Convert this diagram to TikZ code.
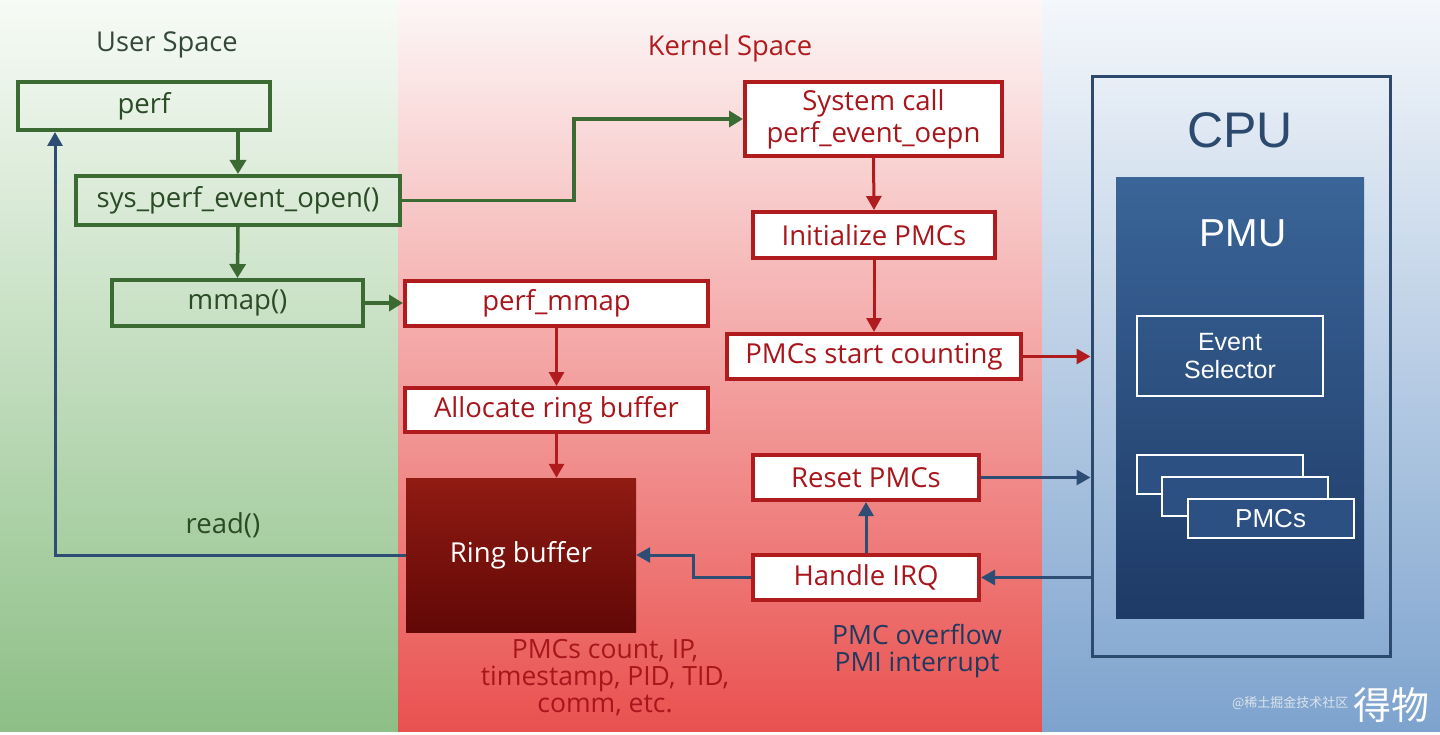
\documentclass[tikz,border=0pt]{standalone}
\usepackage{fontspec}
\setmainfont{Open Sans}
\setsansfont{Liberation Sans}
\newfontfamily\cjk{Noto Sans CJK SC}
\usetikzlibrary{arrows.meta,calc}

\definecolor{pfgreen}{HTML}{3B6B33}
\definecolor{pfgtext}{HTML}{2B4A26}
\definecolor{pfusertxt}{HTML}{34483A}
\definecolor{pfred}{HTML}{B01B1E}
\definecolor{pfrtext}{HTML}{A8161C}
\definecolor{pfblue}{HTML}{2E4D74}
\definecolor{pfnavy}{HTML}{1F3A5F}
\definecolor{cpublue}{HTML}{2C4A6E}
\definecolor{pmutop}{HTML}{3A6598}
\definecolor{pmubot}{HTML}{1E3A66}
\definecolor{pmcfill}{HTML}{2C5082}
\definecolor{rbtop}{HTML}{901B13}
\definecolor{rbbot}{HTML}{620806}
\definecolor{gtop}{HTML}{F7FBF6}
\definecolor{gmid}{HTML}{C2E0BE}
\definecolor{gbot}{HTML}{8DBF86}
\definecolor{rtop}{HTML}{FDF7F7}
\definecolor{rmid}{HTML}{F5C6C6}
\definecolor{rbot}{HTML}{E9514F}
\definecolor{btop}{HTML}{F4F7FB}
\definecolor{bmid}{HTML}{B8CDE5}
\definecolor{bbot}{HTML}{7DA3CE}
\definecolor{wmgray}{HTML}{DCE3EC}

\begin{document}
\begin{tikzpicture}[
  x=1pt, y=-1pt,
  font=\fontsize{27.5}{32}\selectfont,
  gbox/.style={draw=pfgreen, line width=4pt, text=pfgtext, inner sep=0pt},
  rbox/.style={draw=pfred, line width=4pt, fill=white, text=pfrtext, inner sep=0pt, align=center},
  title/.style={font=\fontsize{27.3}{32}\selectfont},
  garr/.style={draw=pfgreen, line width=3.5pt, -{Triangle[length=14pt,width=16pt]}},
  rarr/.style={draw=pfred, line width=3pt, -{Triangle[length=14pt,width=15pt]}},
  barr/.style={draw=pfblue, line width=3pt, -{Triangle[length=14pt,width=15pt]}},
  note/.style={align=center, font=\fontsize{26.5}{27}\selectfont},
  hw/.style={font=\sffamily, text=white},
]
  \useasboundingbox (0,0) rectangle (1440,735);
  % three spaces
  \shade[top color=gtop, middle color=gmid, bottom color=gbot] (0,0) rectangle (398,731);
  \shade[top color=rtop, middle color=rmid, bottom color=rbot] (398,0) rectangle (1042,731);
  \shade[top color=btop, middle color=bmid, bottom color=bbot] (1042,0) rectangle (1440,731);

  \node[title, text=pfusertxt] (usertitle) at (167,45) {User Space};
  \node[title, text=pfred] (kerntitle) at (730,48) {Kernel Space};

  % user space
  \node[gbox, minimum width=252pt, minimum height=48pt] (perf) at (144,106) {perf};
  \node[gbox, minimum width=324pt, minimum height=49pt] (sysopen) at (238,200.5) {sys\_perf\_event\_open()};
  \node[gbox, minimum width=251pt, minimum height=46pt] (mmap) at (237.5,303) {mmap()};
  \node[text=pfgtext] (readlbl) at (223,525) {read()};

  % kernel space
  \node[rbox, minimum width=257pt, minimum height=74pt] (syscall) at (873.5,119) {System call\\perf\_event\_oepn};
  \node[rbox, minimum width=242pt, minimum height=46pt] (initpmc) at (874,235) {Initialize PMCs};
  \node[rbox, minimum width=294pt, minimum height=45pt] (startcnt) at (874,356.5) {PMCs start counting};
  \node[rbox, minimum width=303pt, minimum height=45pt] (perfmmap) at (556.5,303.5) {perf\_mmap};
  \node[rbox, minimum width=303pt, minimum height=44pt] (allocrb) at (556.5,410) {Allocate ring buffer};
  \node[top color=rbtop, bottom color=rbbot, minimum width=230pt, minimum height=154pt, text=white] (ringbuf) at (521,555) {Ring buffer};
  \node[rbox, minimum width=226pt, minimum height=45pt] (resetpmc) at (866,477.5) {Reset PMCs};
  \node[rbox, minimum width=226pt, minimum height=45pt] (handleirq) at (866,577.5) {Handle IRQ};
  \node[note, text=pfrtext] (rbnote) at (605,678) {PMCs count, IP,\\timestamp, PID, TID,\\comm, etc.};
  \node[note, text=pfnavy] (irqnote) at (917,651) {PMC overflow\\PMI interrupt};

  % cpu
  \node[draw=cpublue, line width=3pt, minimum width=298pt, minimum height=579pt] (cpu) at (1241,366.5) {};
  \node[font=\sffamily\fontsize{50}{60}\selectfont, text=cpublue] (cpulbl) at (1240,130) {CPU};
  \node[top color=pmutop, bottom color=pmubot, minimum width=248pt, minimum height=440pt] (pmu) at (1240,398) {};
  \node[hw, font=\sffamily\fontsize{39}{44}\selectfont] (pmulbl) at (1243,233) {PMU};
  \node[hw, draw=white, line width=2pt, minimum width=186pt, minimum height=80pt, align=center, font=\sffamily\fontsize{25}{28}\selectfont] (evsel) at (1230,356) {Event\\Selector};
  \foreach \i in {0,1,2}
    \node[draw=white, line width=2pt, fill=pmcfill, minimum width=166pt, minimum height=39pt] (pmc\i) at (1220+25.3*\i,474.5+22*\i) {};
  \node[hw, font=\sffamily\fontsize{26}{30}\selectfont] (pmclbl) at (pmc2) {PMCs};

  % flows
  \draw[garr] (sysopen.north |- perf.south) -- (sysopen.north);
  \draw[garr] (sysopen.south) -- (mmap.north);
  \draw[garr] (sysopen.east) -- ++(172,0) |- (syscall.west);
  \draw[garr] (mmap.east) -- (mmap.east -| perfmmap.west);
  \draw[rarr] (syscall.south) -- (initpmc.north);
  \draw[rarr] (initpmc.south) -- (startcnt.north);
  \draw[rarr] (startcnt.east) -- (startcnt.east -| cpu.west);
  \draw[rarr] (perfmmap.south) -- (allocrb.north);
  \draw[rarr] (allocrb.south) -- (allocrb.south |- ringbuf.north);
  \draw[barr] (resetpmc.east) -- (resetpmc.east -| cpu.west);
  \draw[barr] (handleirq.east -| cpu.west) -- (handleirq.east);
  \draw[barr] (handleirq.north) -- (resetpmc.south);
  \draw[barr] (handleirq.west) -- ++(-58,0) |- (ringbuf.east);
  \draw[barr] (ringbuf.west) -| ([xshift=39pt]perf.south west);

  % watermark
  \node[font=\cjk\fontsize{13}{16}\selectfont, text=wmgray, anchor=east] (wmsite) at (1352,703) {@稀土掘金技术社区};
  \node[font=\cjk\fontsize{38}{40}\selectfont, text=white] (wmbrand) at (1391,705) {得物};
\end{tikzpicture}
\end{document}
